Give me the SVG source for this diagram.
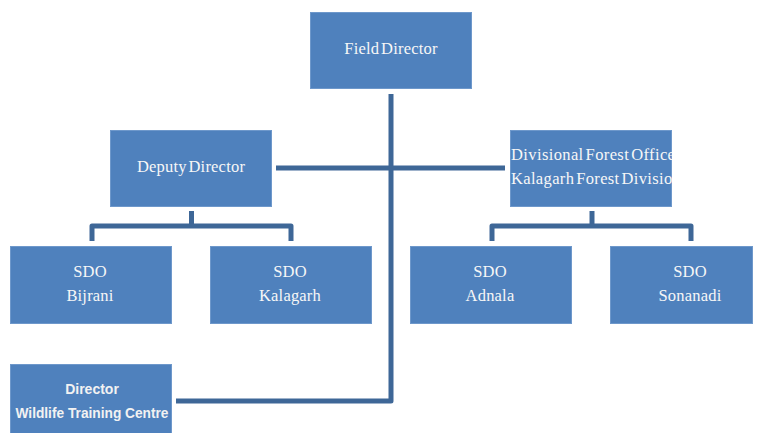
<svg xmlns="http://www.w3.org/2000/svg" width="757" height="433" viewBox="0 0 757 433">
<style>
.box{fill:#4F81BD;stroke:#6E98CB;stroke-width:1}
.t{font-family:"Liberation Serif","Times New Roman",serif;font-size:16.5px;fill:#F7F7F7;text-anchor:middle;word-spacing:-2.5px;letter-spacing:0.2px}
.tb{font-family:"Liberation Sans",Arial,sans-serif;font-size:14px;font-weight:bold;fill:#F2F2F2;text-anchor:middle}
.c{fill:none;stroke:#3E6797;stroke-width:5;stroke-linejoin:round}
</style>
<defs>
<clipPath id="dfoclip"><rect x="511" y="130" width="161" height="76"/></clipPath>
</defs>
<rect width="757" height="433" fill="#FFFFFF"/>
<g id="connectors">
<polyline class="c" points="391,94 391,401 176,401"/>
<line class="c" x1="276" y1="168" x2="505" y2="168"/>
<polyline class="c" points="92,241 92,226 291,226 291,241"/>
<line class="c" x1="191.5" y1="211" x2="191.5" y2="226"/>
<polyline class="c" points="492,241 492,226 691,226 691,241"/>
<line class="c" x1="592" y1="211" x2="592" y2="226"/>
</g>
<g id="field-director">
<rect class="box" x="310.5" y="12.5" width="161" height="76"/>
<text class="t" x="391" y="54">Field Director</text>
</g>
<g id="deputy-director">
<rect class="box" x="110.5" y="130.5" width="161" height="76"/>
<text class="t" x="191" y="172">Deputy Director</text>
</g>
<g id="dfo">
<rect class="box" x="510.5" y="130.5" width="161" height="76"/>
<g clip-path="url(#dfoclip)">
<text class="t" x="511" y="160" style="text-anchor:start" textLength="170" lengthAdjust="spacing">Divisional Forest Officer</text>
<text class="t" x="511" y="184" style="text-anchor:start" textLength="170" lengthAdjust="spacing">Kalagarh Forest Division</text>
</g>
</g>
<g id="sdo-bijrani">
<rect class="box" x="10.5" y="246.5" width="161" height="77"/>
<text class="t" x="90" y="277">SDO</text>
<text class="t" x="90" y="301">Bijrani</text>
</g>
<g id="sdo-kalagarh">
<rect class="box" x="210.5" y="246.5" width="161" height="77"/>
<text class="t" x="290" y="277">SDO</text>
<text class="t" x="290" y="301">Kalagarh</text>
</g>
<g id="sdo-adnala">
<rect class="box" x="410.5" y="246.5" width="161" height="77"/>
<text class="t" x="490" y="277">SDO</text>
<text class="t" x="490" y="301">Adnala</text>
</g>
<g id="sdo-sonanadi">
<rect class="box" x="610.5" y="246.5" width="142" height="77"/>
<text class="t" x="690" y="277">SDO</text>
<text class="t" x="690" y="301">Sonanadi</text>
</g>
<g id="director-wtc">
<rect class="box" x="10.5" y="364.5" width="161" height="80"/>
<text class="tb" x="92" y="394">Director</text>
<text class="tb" x="92" y="418" textLength="153" lengthAdjust="spacingAndGlyphs">Wildlife Training Centre</text>
</g>
</svg>
